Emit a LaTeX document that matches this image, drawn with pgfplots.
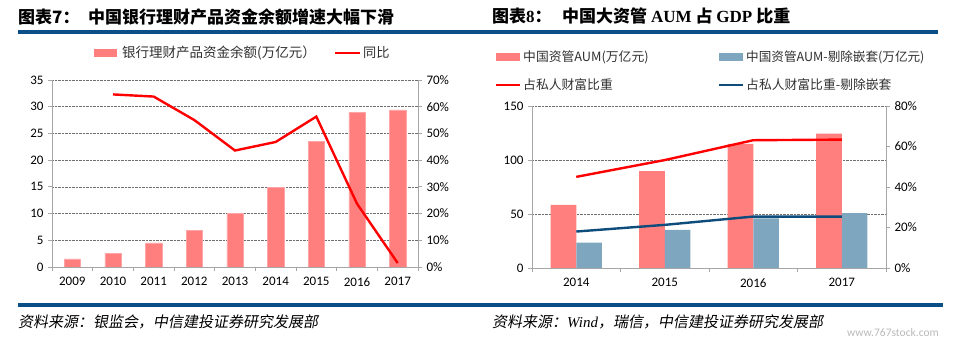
\documentclass[border=0pt]{standalone}
\usepackage{pgfplots}
\pgfplotsset{compat=1.18}
\usepackage{fontspec}
\setmainfont{Carlito}
\newfontfamily\cjk{Noto Sans CJK SC}
\newfontfamily\cjkit[FakeSlant=0.18]{Noto Sans CJK SC}
\newfontfamily\tnr{Liberation Serif}
\definecolor{barpink}{HTML}{FF7F7F}
\definecolor{barblue}{HTML}{7FA6BF}
\definecolor{navyline}{HTML}{0E4C7C}
\definecolor{titleblue}{HTML}{0B4F86}
\definecolor{axisgray}{HTML}{A6A6A6}
\definecolor{gridgray}{HTML}{6F6F6F}
\definecolor{legtext}{HTML}{303030}
\pgfplotsset{
  base/.style={scale only axis, anchor=south west, xmin=-0.5,
    tick label style={font=\fontsize{13}{15}\selectfont, black},
    xticklabel style={yshift=-3pt},
    yticklabel style={xshift=-1pt},
    /pgf/number format/assume math mode=true,
    axis line style={axisgray, line width=0.8pt},
    tick style={axisgray, line width=0.8pt}, tick align=outside, major tick length=4pt,
  },
}
\begin{document}
\begin{tikzpicture}
\begin{scope}[x=1pt,y=1pt]
\path (0,0) rectangle (957,344);
% titles
\node[anchor=west, inner sep=0] at (18,327) {\fontsize{17}{19}\selectfont\cjk\bfseries 图表7：};
\node[anchor=west, inner sep=0] at (88,327) {\fontsize{17}{19}\selectfont\cjk\bfseries 中国银行理财产品资金余额增速大幅下滑};
\node[anchor=west, inner sep=0] at (492,328) {\fontsize{17}{19}\selectfont\cjk\bfseries 图表{\tnr 8}：};
\node[anchor=west, inner sep=0] at (562,328) {\fontsize{17}{19}\selectfont\cjk\bfseries 中国大资管 {\tnr AUM} 占 {\tnr GDP} 比重};
\fill[titleblue] (18,310) rectangle (938,314);
\fill[titleblue] (18,37) rectangle (943,40.5);
% sources
\node[anchor=west, inner sep=0] at (18,22) {\fontsize{15}{17}\selectfont\cjkit 资料来源：银监会，中信建投证券研究发展部};
\node[anchor=west, inner sep=0] at (492,22) {\fontsize{15}{17}\selectfont\cjkit 资料来源：{\tnr\itshape Wind}，瑞信，中信建投证券研究发展部};
\node[anchor=west, inner sep=0, gray!55] at (847,11) {\fontsize{11.5}{13}\selectfont www.767stock.com};
% legends
\fill[barpink] (94,287) rectangle (117,295);
\node[anchor=west, inner sep=0, legtext] at (122,291) {\fontsize{13.5}{15}\selectfont\cjk 银行理财产品资金余额(万亿元）};
\draw[red, line width=2.4pt] (335,291) -- (360,291);
\node[anchor=west, inner sep=0, legtext] at (363,291) {\fontsize{13.2}{15}\selectfont\cjk 同比};
\fill[barpink] (496,283) rectangle (520,291);
\node[anchor=west, inner sep=0, legtext] at (523,287) {\fontsize{12.8}{15}\selectfont\cjk 中国资管AUM(万亿元)};
\fill[barblue] (719,283) rectangle (743,291);
\node[anchor=west, inner sep=0, legtext] at (746,287) {\fontsize{12.6}{15}\selectfont\cjk 中国资管AUM-剔除嵌套(万亿元)};
\draw[red, line width=2.4pt] (496,259) -- (520,259);
\node[anchor=west, inner sep=0, legtext] at (523,259) {\fontsize{12.8}{15}\selectfont\cjk 占私人财富比重};
\draw[navyline, line width=2.4pt] (719,259) -- (743,259);
\node[anchor=west, inner sep=0, legtext] at (746,259) {\fontsize{12.8}{15}\selectfont\cjk 占私人财富比重-剔除嵌套};
\end{scope}
% left chart
\begin{axis}[base, at={(52pt,77pt)}, width=366pt, height=187pt, xmax=8.5,
  ymin=0, ymax=35, ytick={0,5,...,35},
  axis x line*=bottom, axis y line*=left,
  xtick={-0.5,0.5,...,8.5}, x tick label as interval,
  xticklabels={2009,2010,2011,2012,2013,2014,2015,2016,2017},
  ymajorgrids, grid style={gridgray, densely dotted, line width=0.7pt}]
\addplot[ybar, bar width=0.4, fill=barpink, draw=barpink!70!white, line width=0.5pt]
  coordinates {(0,1.5) (1,2.6) (2,4.5) (3,6.9) (4,10.0) (5,14.9) (6,23.5) (7,29.0) (8,29.4)};
\end{axis}
\begin{axis}[base, at={(52pt,77pt)}, width=366pt, height=187pt, xmax=8.5,
  ymin=0, ymax=70, ytick={0,10,...,70},
  axis y line*=right, axis x line=none,
  yticklabel style={xshift=2pt},
  yticklabel={\pgfmathprintnumber{\tick}\%}]
\addplot[red, line width=2.4pt]
  coordinates {(1,64.6) (2,63.8) (3,55.0) (4,43.6) (5,46.8) (6,56.3) (7,23.7) (8,1.5)};
\end{axis}
% right chart
\begin{axis}[base, at={(532pt,76pt)}, width=354pt, height=162pt, xmax=3.5,
  ymin=0, ymax=150, ytick={0,50,100,150},
  axis x line*=bottom, axis y line*=left,
  xtick={-0.5,0.5,...,3.5}, x tick label as interval,
  xticklabels={2014,2015,2016,2017},
  ymajorgrids, grid style={gridgray, densely dotted, line width=0.7pt}]
\addplot[ybar, bar width=0.29, bar shift=-0.145, fill=barpink, draw=none]
  coordinates {(0,58.4) (1,89.7) (2,115.0) (3,124.5)};
\addplot[ybar, bar width=0.29, bar shift=0.145, fill=barblue, draw=none]
  coordinates {(0,23.4) (1,35.3) (2,46.0) (3,50.7)};
\end{axis}
\begin{axis}[base, at={(532pt,76pt)}, width=354pt, height=162pt, xmax=3.5,
  ymin=0, ymax=80, ytick={0,20,...,80},
  axis y line*=right, axis x line=none,
  yticklabel style={xshift=2pt},
  yticklabel={\pgfmathprintnumber{\tick}\%}]
\addplot[red, line width=2.4pt]
  coordinates {(0,45.0) (1,53.3) (2,63.1) (3,63.4)};
\addplot[navyline, line width=2.4pt]
  coordinates {(0,18.0) (1,21.3) (2,25.4) (3,25.4)};
\end{axis}
\end{tikzpicture}
\end{document}
